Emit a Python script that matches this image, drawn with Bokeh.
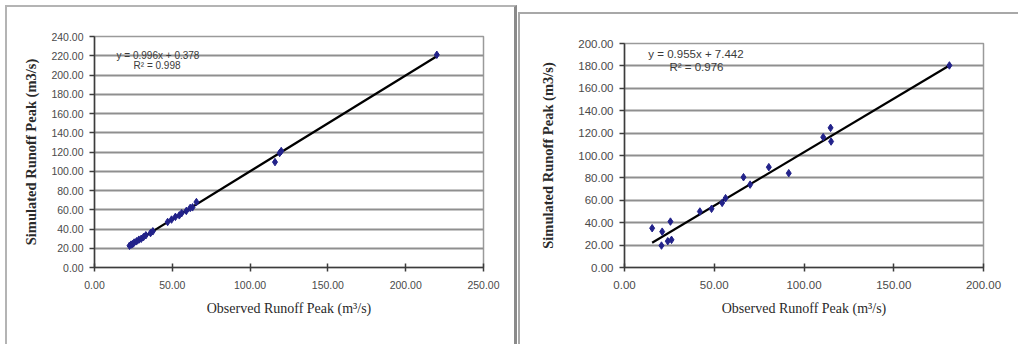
from bokeh.plotting import figure
from bokeh.layouts import row
from bokeh.models import (FixedTicker, NumeralTickFormatter, Label, ColumnDataSource)
from bokeh.embed import file_html
from bokeh.resources import INLINE

# ---------------- data ----------------
obs_left = [22.5, 23.5, 24.5, 25.5, 27.0, 28.5, 30.0, 31.5, 33.0, 36.0, 37.5,
            47.0, 49.5, 52.0, 54.5, 56.0, 59.0, 61.5, 63.0, 65.5,
            116.0, 119.0, 120.0, 220.0]
sim_left = [22.6, 23.8, 24.3, 25.9, 27.2, 28.9, 29.8, 31.6, 33.5, 35.8, 37.6,
            47.3, 49.8, 52.6, 54.2, 56.4, 58.8, 61.9, 62.5, 68.0,
            109.5, 119.0, 121.0, 221.0]
slope_left, intercept_left = 0.996, 0.378
eq_left = "y = 0.996x + 0.378"
r2_left = "R² = 0.998"

obs_right = [15.4, 20.6, 21.0, 24.1, 25.6, 26.2, 42.0, 48.5, 54.4, 56.3,
             66.3, 70.0, 80.4, 91.5, 110.7, 114.8, 115.1, 181.0]
sim_right = [35.1, 19.6, 32.0, 23.5, 41.0, 24.7, 50.0, 52.4, 57.7, 61.9,
             80.6, 74.0, 89.6, 84.2, 116.4, 124.7, 112.5, 180.4]
slope_right, intercept_right = 0.955, 7.442
eq_right = "y = 0.955x + 7.442"
r2_right = "R² = 0.976"

x_ticks_left = [0, 50, 100, 150, 200, 250]
y_ticks_left = list(range(0, 241, 20))
x_ticks_right = [0, 50, 100, 150, 200]
y_ticks_right = list(range(0, 201, 20))

x_title = "Observed Runoff Peak (m³/s)"
y_title = "Simulated Runoff Peak (m3/s)"

POINT_COLOR = "#22228a"
GRID_COLOR = "#8f8f8f"
AXIS_COLOR = "#3c3c3c"
TICK_FONT = "Liberation Sans"
TITLE_FONT = "Liberation Serif"


def make_panel(width, height, xr, yr, xt, yt, obs, sim, slope, intercept, eq, r2,
               left, right, top, bottom, tick_size, eq_pos, r2_pos,
               eq_size, ytitle_standoff):
    p = figure(width=width, height=height, x_range=xr, y_range=yr,
               output_backend="svg", toolbar_location=None,
               min_border_left=left, min_border_right=right,
               min_border_top=top, min_border_bottom=bottom)
    p.background_fill_color = "white"
    p.border_fill_color = "white"
    p.outline_line_color = "#9a9a9a"
    p.outline_line_width = 1.5

    p.xgrid.grid_line_color = None
    p.ygrid.grid_line_color = GRID_COLOR
    p.ygrid.grid_line_width = 2
    p.xaxis.ticker = FixedTicker(ticks=xt)
    p.yaxis.ticker = FixedTicker(ticks=yt)
    for ax in (p.xaxis[0], p.yaxis[0]):
        ax.formatter = NumeralTickFormatter(format="0.00")
        ax.axis_line_color = AXIS_COLOR
        ax.axis_line_width = 1.5
        ax.major_tick_line_color = AXIS_COLOR
        ax.major_tick_line_width = 1.5
        ax.minor_tick_line_color = None
        ax.major_label_text_font = TICK_FONT
        ax.major_label_text_font_size = tick_size
        ax.major_label_text_color = "#4a4a4a"
        ax.axis_label_text_font = TITLE_FONT
        ax.axis_label_text_color = "#2a2a2a"
    p.xaxis.major_tick_in = 4
    p.xaxis.major_tick_out = 4
    p.yaxis.major_tick_in = 0
    p.yaxis.major_tick_out = 5
    p.xaxis.major_label_standoff = 9
    p.yaxis.major_label_standoff = 6
    p.xaxis.axis_label = x_title
    p.yaxis.axis_label = y_title
    p.yaxis.axis_label_text_font_style = "bold"
    p.yaxis.axis_label_text_font_size = "14.5px"
    p.xaxis.axis_label_text_font_style = "normal"
    p.xaxis.axis_label_text_font_size = "14px"
    p.xaxis.axis_label_standoff = 9
    p.yaxis.axis_label_standoff = ytitle_standoff

    xs = [min(obs), max(obs)]
    ys = [slope * v + intercept for v in xs]
    p.line(xs, ys, line_color="black", line_width=2.2)
    src = ColumnDataSource(dict(x=obs, y=sim))
    p.scatter("x", "y", source=src, marker="diamond", size=7.5,
              fill_color=POINT_COLOR, line_color=POINT_COLOR)

    p.add_layout(Label(x=eq_pos[0], y=eq_pos[1], text=eq, text_align="center",
                       text_baseline="middle", text_font=TICK_FONT,
                       text_font_size=eq_size, text_color="#3a3a3a"))
    p.add_layout(Label(x=r2_pos[0], y=r2_pos[1], text=r2, text_align="center",
                       text_baseline="middle", text_font=TICK_FONT,
                       text_font_size=eq_size, text_color="#3a3a3a"))
    return p


# left panel: margin 5 (top/left), border 2px top/left, 3px right (border-box)
p1 = make_panel(512, 339, (0, 250), (0, 240), x_ticks_left, y_ticks_left,
                obs_left, sim_left, slope_left, intercept_left, eq_left, r2_left,
                left=87, right=36, top=29, bottom=79,
                tick_size="10.5px",
                eq_pos=(40.8, 220), r2_pos=(40.2, 209.5), eq_size="10px",
                ytitle_standoff=9)
p1.margin = (5, 0, 0, 5)
p1.styles = {"border-top": "2px solid #b4b4b4", "border-left": "2px solid #b4b4b4",
             "border-right": "3px solid #8a8a8a"}

# right panel: margin 1 left / 12 top, border 2px top/left (border-box)
p2 = make_panel(500, 332, (0, 200), (0, 200), x_ticks_right, y_ticks_right,
                obs_right, sim_right, slope_right, intercept_right, eq_right, r2_right,
                left=104, right=37, top=29, bottom=79,
                tick_size="11.5px",
                eq_pos=(39.8, 191), r2_pos=(40.1, 178.6), eq_size="11.5px",
                ytitle_standoff=19)
p2.margin = (12, 0, 0, 1)
p2.styles = {"border-top": "2px solid #a8a8a8", "border-left": "2px solid #a8a8a8"}

layout = row(p1, p2)
open("out.html", "w").write(file_html(layout, INLINE))
